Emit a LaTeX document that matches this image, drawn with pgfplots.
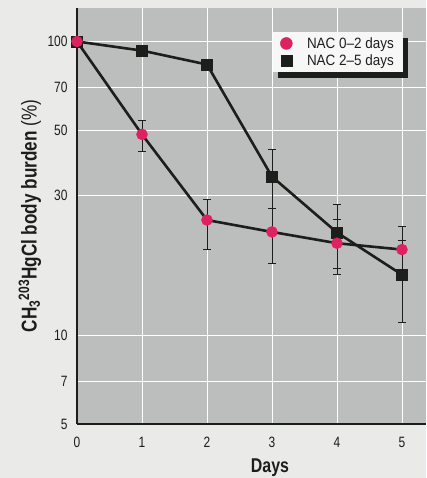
\documentclass[border=0pt]{standalone}
\usepackage{fontspec}
\setmainfont{Liberation Sans}[FakeStretch=0.9]
\newfontfamily\condfont{Liberation Sans}[FakeStretch=0.8]
\usepackage{pgfplots}
\pgfplotsset{compat=1.18}
\usetikzlibrary{shadows}
\definecolor{pagebg}{RGB}{234,234,232}
\definecolor{plotbg}{RGB}{188,190,190}
\definecolor{pinkm}{RGB}{222,34,96}
\definecolor{ink}{RGB}{28,30,28}

\pgfplotstableread{
x y ep em
0 100 0 0
1 48.3 5.6 6.0
2 24.7 4.3 5.1
3 22.5 4.5 4.9
4 20.6 4.2 4.5
5 19.6 3.9 3.9
}\earlydata

\pgfplotstableread{
x y ep em
0 100 0 0
1 93.1 0 0
2 83.5 0 0
3 34.7 8.2 7.7
4 22.4 5.5 5.5
5 16.1 5.0 5.0
}\latedata

\begin{document}
\begin{tikzpicture}[x=1bp,y=1bp]
\path[use as bounding box] (0,0) rectangle (426,478);
\fill[pagebg] (0,0) rectangle (426,478);
\begin{axis}[
  at={(77bp,54bp)}, anchor=south west,
  scale only axis, width=349bp, height=416bp,
  ymode=log, xmin=0, xmax=5.37, ymin=5, ymax=130,
  axis background/.style={fill=plotbg},
  axis x line*=bottom, axis y line*=left,
  axis line style={ink, line width=1.3bp, -},
  xtick={0,1,2,3,4,5}, xticklabels={0,1,2,3,4,5},
  ytick={5,7,10,30,50,70,100}, yticklabels={5,7,10,30,50,70,100},
  /pgf/number format/assume math mode=true,
  grid=major, major grid style={white, line width=0.7bp},
  major tick length=0pt,
  tick label style={font=\condfont\fontsize{15}{17}\selectfont, text=ink},
  xticklabel style={yshift=-10bp},
  yticklabel style={xshift=-6bp},
  xlabel={\textbf{Days}},
  xlabel style={at={(axis description cs:0.553,0)}, anchor=center, yshift=-44bp, font=\condfont\fontsize{20}{22}\selectfont, text=ink},
  ylabel={\textbf{CH\textsubscript{3}\textsuperscript{203}HgCl body burden} (\%)},
  ylabel style={at={(axis description cs:-0.135,0.5)}, anchor=center, font=\condfont\fontsize{21.5}{23}\selectfont, text=ink},
  legend style={at={(0.562,0.942)}, anchor=north west, fill=white!94!gray, draw=none,
    drop shadow={shadow xshift=5bp, shadow yshift=-6bp, fill=ink, opacity=1},
    font=\fontsize{15}{17}\selectfont, text=ink, inner xsep=7bp, inner ysep=3bp,
    row sep=1bp},
  legend cell align=left,
  legend image code/.code={\node[inner sep=0pt, minimum width=17bp, minimum height=12bp] at (1.5bp,0bp) {}; \draw[#1] plot coordinates {(0bp,0bp)};},
  error bars/error bar style={line width=0.8bp, ink},
  error bars/error mark options={rotate=90, mark size=4bp, line width=0.8bp, ink},
]
\addlegendimage{only marks, mark=*, mark size=6bp, mark options={fill=pinkm, draw=pinkm}}
\addlegendentry{NAC 0--2 days}
\addlegendimage{only marks, mark=square*, mark size=5.5bp, mark options={fill=ink, draw=ink}}
\addlegendentry{NAC 2--5 days}

\addplot[ink, line width=2.6bp, mark=square*, mark size=5.5bp, mark options={fill=ink, draw=ink, line width=0.5bp},
  error bars/.cd, y dir=both, y explicit]
  table[x=x, y=y, y error plus=ep, y error minus=em] {\latedata};
\addplot[ink, line width=2.6bp, mark=*, mark size=5.5bp, mark options={fill=pinkm, draw=pinkm, line width=0.5bp},
  error bars/.cd, y dir=both, y explicit]
  table[x=x, y=y, y error plus=ep, y error minus=em] {\earlydata};
\end{axis}
\end{tikzpicture}
\end{document}
